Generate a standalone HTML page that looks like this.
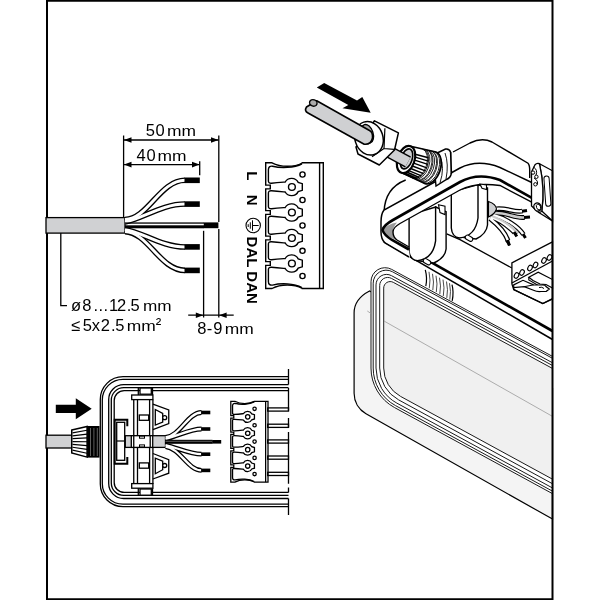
<!DOCTYPE html>
<html><head><meta charset="utf-8">
<style>
html,body{margin:0;padding:0;background:#fff;}
svg{display:block;will-change:transform;}
text{font-family:"Liberation Sans", sans-serif;}
</style></head>
<body>
<svg width="600" height="600" viewBox="0 0 600 600">
<rect x="0" y="0" width="600" height="600" fill="#fff"/>
<!-- ISO -->
<path d="M552.5,519.1 L366,413.7 A23.5,23.5 0 0 1 354.1,393.3 V313 Q354.1,299 369.5,291 L552.5,388 Z" fill="#f4f4f4" stroke="#000" stroke-width="1.2"/>
<path d="M552.5,356.41 L391.66,269.39 A14.00,14.00 0 0 0 371.00,281.71 V368.02 A45.00,45.00 0 0 0 394.47,407.53 L552.5,493.66 Z" fill="#fff" stroke="none"/>
<path d="M552.5,356.41 L391.66,269.39 A14.00,14.00 0 0 0 371.00,281.71 V368.02 A45.00,45.00 0 0 0 394.47,407.53 L552.5,493.66" fill="none" stroke="#1a1a1a" stroke-width="1.0"/>
<path d="M552.5,358.34 L392.39,271.72 A13.00,13.00 0 0 0 373.20,283.15 V368.02 A42.80,42.80 0 0 0 395.52,405.60 L552.5,491.16" fill="none" stroke="#1a1a1a" stroke-width="1.0"/>
<path d="M552.5,362.77 L391.50,275.67 A10.50,10.50 0 0 0 376.00,284.91 V368.02 A40.00,40.00 0 0 0 396.86,403.14 L552.5,487.97" fill="none" stroke="#1a1a1a" stroke-width="1.0"/>
<path d="M552.5,365.50 L391.51,278.41 A8.00,8.00 0 0 0 379.70,285.44 V368.02 A36.30,36.30 0 0 0 398.63,399.89 L552.5,483.75" fill="none" stroke="#1a1a1a" stroke-width="1.0"/>
<path d="M552.5,368.46 L393.29,282.33 A6.50,6.50 0 0 0 383.70,288.05 V368.02 A32.30,32.30 0 0 0 400.54,396.38 L552.5,479.20" fill="#f0f0f0" stroke="#1a1a1a" stroke-width="1.0"/>
<path d="M367.3,311 L371,313.5 M384,321 L552.5,416.4" stroke="#9a9a9a" stroke-width="0.8" fill="none"/>
<path d="M384,212 Q386,186 405,180 L453,152 L470,143 Q482,137 492,142 L528,163.2 Q529.7,165 529.7,170 L552.5,172 V331 L383.2,241.3 Q381,236 381,228 Z" fill="#fff" stroke="none"/>
<path d="M384,212 Q385,188 405.7,180" fill="none" stroke="#000" stroke-width="1.4"/>
<path d="M453,152 L470,143 Q482,137 492,142 L528,163.2 Q529.7,165 529.7,170 V178" fill="none" stroke="#000" stroke-width="1.4"/>
<path d="M446.7,233.8 L460,239.7 L511.9,268" stroke="#000" fill="none" stroke-width="1.3"/>
<path d="M425.3,269.8 L452,284.6 L452,300.8 L425.3,286.2 Z" fill="#fff" stroke="none"/>
<path d="M425.3,269.8 Q427.5,278 425.8,286.2 M452,284.6 Q454,292 452.2,300.8" stroke="#000" stroke-width="1.2" fill="none"/>
<path d="M429,271.8 Q430.8,280.0 429.3,288.2 M432.5,273.8 Q434.3,282.0 432.8,290.2 M436,275.7 Q437.8,283.9 436.3,292.1 M439.5,277.7 Q441.3,285.9 439.8,294.1 M443,279.6 Q444.8,287.8 443.3,296.0 M446.5,281.5 Q448.3,289.7 446.8,297.9 M449.5,283.2 Q451.3,291.4 449.8,299.6 " stroke="#333" stroke-width="0.9" fill="none"/>
<path d="M511.9,262.8 L552.5,241.8 V299 L542.8,303.6 L513.7,289.5 L511.9,284 Z" stroke="#000" fill="#fff" stroke-width="1.3"/>
<path d="M511.9,283 L552.5,261" stroke="#000" stroke-width="1.3" fill="none"/>
<ellipse cx="516.5" cy="275.5" rx="2.1" ry="2.9" transform="rotate(30 516.5 275.5)" fill="#fff" stroke="#000" stroke-width="1.1"/>
<ellipse cx="522" cy="272.5" rx="2.1" ry="2.9" transform="rotate(30 522 272.5)" fill="#fff" stroke="#000" stroke-width="1.1"/>
<ellipse cx="530" cy="268" rx="2.1" ry="2.9" transform="rotate(30 530 268)" fill="#fff" stroke="#000" stroke-width="1.1"/>
<ellipse cx="535.5" cy="265" rx="2.1" ry="2.9" transform="rotate(30 535.5 265)" fill="#fff" stroke="#000" stroke-width="1.1"/>
<ellipse cx="544" cy="260.5" rx="2.1" ry="2.9" transform="rotate(30 544 260.5)" fill="#fff" stroke="#000" stroke-width="1.1"/>
<ellipse cx="549.5" cy="257.5" rx="2.1" ry="2.9" transform="rotate(30 549.5 257.5)" fill="#fff" stroke="#000" stroke-width="1.1"/>
<path d="M528.8,277.3 L538.2,272.1 L552.5,279.5 V288 L546,284.5 L540,284 L533,280.5 Z" fill="#fff" stroke="#000" stroke-width="1.2"/>
<path d="M528.8,277.3 V280 L540,286.5 L546,287" fill="none" stroke="#000" stroke-width="1.1"/>
<path d="M513.7,284.9 L523,280.3 L533.5,284.9 L541.7,285 Q545,284.5 546,286.5 L549.3,289 L546.3,291.3 L541,291.5 Q537,292 533.5,290.2 L524.2,286.7 L513.7,287.6 Z" fill="#fff" stroke="#000" stroke-width="1.2"/>
<path d="M524.2,286.7 L533.5,284.9 M539,287.5 Q542,286.5 544,288.5" fill="none" stroke="#000" stroke-width="1"/>
<path d="M513.7,287.6 V289.5 L542.8,303.6 L552.5,298.5" fill="none" stroke="#000" stroke-width="1.3"/>
<path d="M506,240 L509.6,245.3" stroke="#000" stroke-width="2.4"/>
<path d="M495,209 C505,207 515,213 522.5,211 M494,213 C506,212 516,219 524.5,217.3 M491,217 C500,220 508,226 514.5,232.5 M493,215 C505,218 518,226 523.5,234.5 M490,218.5 C497,224 505,232 508,240.5 M492,216 C502,220 512,226 518,233" stroke="#000" stroke-width="4.8" fill="none"/>
<path d="M495,209 C505,207 515,213 522.5,211 M491,217 C500,220 508,226 514.5,232.5 M490,218.5 C497,224 505,232 508,240.5 M493,215 C505,218 518,226 523.5,234.5" stroke="#fff" stroke-width="2.4" fill="none"/>
<path d="M494,213 C506,212 516,219 524.5,217.3 M492,216 C502,220 512,226 518,233" stroke="#ccc" stroke-width="2.4" fill="none"/>
<path d="M522,211.2 L527,210.4 M524,217.5 L530,217 M514,232 L516.8,236.5 M523,234 L525.5,238 M507.6,240 L509.4,245.5" stroke="#000" stroke-width="3" fill="none"/>
<path d="M488.5,201.5 Q496,204 496.5,209 Q495,214 488.5,217 Z" fill="#cfd0d2" stroke="#000" stroke-width="1.1"/>
<path d="M383.2,241.3 L552.5,339.5" stroke="#000" stroke-width="1.5" fill="none"/>
<path d="M392,240 L552.5,331" stroke="#000" stroke-width="2.6" fill="none"/>
<path d="M435.6,207 L446.1,211.7 V249 Q445,258 433.8,263 L417.5,260.7 Z" stroke="#000" fill="#fff" stroke-width="1.4"/>
<path d="M409.1,215 V251.3 Q410,260 417.5,260.7 Q433,259 435.6,240.8 V207 Z" stroke="#000" fill="#fff" stroke-width="1.4"/>
<rect x="423" y="259.5" width="8" height="4.4" rx="2.2" transform="rotate(30 427 261.7)" fill="#fff" stroke="#000" stroke-width="1.1"/>
<path d="M478,184.5 L487.5,188 V225 Q486.5,234 476,239 L459.5,237 Z" stroke="#000" fill="#fff" stroke-width="1.4"/>
<path d="M451.3,192 V228 Q452,237 459.5,238 Q475.5,236 478,218 V184.5 Z" stroke="#000" fill="#fff" stroke-width="1.4"/>
<rect x="465" y="236" width="8" height="4.4" rx="2.2" transform="rotate(30 469 238.2)" fill="#fff" stroke="#000" stroke-width="1.1"/>
<path d="M534.4,183.8 L500,167.5 Q478,159 460,168 L384,210 Q381,214 381,222 V232 Q381,239 383.2,241.3 L410,257.7 L408.8,248.3 L397,240 Q393,237 393,232 Q393,227.5 400,223.5 L460,190 Q475,182 500,185.5 L536,204.4 Z" fill="#fff" stroke="none"/>
<path d="M383,230 Q387,224 397,222.5 Q393,227 393,232 Q393,237 396,240 Q386,237 383,230 Z" fill="#9a9a9a"/>
<path d="M534.4,183.8 L500,167.5 Q478,159 460,168 L384,210 Q381,214 381,222 V232 Q381,239 385,243 L409,257" stroke="#000" stroke-width="1.5" fill="none"/>
<path d="M537.6,201.2 L500,180 Q478,172 460,182 L393,220 Q384,225 382.5,230 Q384,235 392,240 L409,249.5" stroke="#000" stroke-width="2.6" fill="none"/>
<path d="M536,204.4 L500,185.5 Q475,182 460,190 L400,223.5 Q393,227.5 393,232 Q393,237 397,240 L409,247" stroke="#000" stroke-width="1.4" fill="none"/>
<path d="M480,184 L486.5,185 V189.5 L482,188.2 Z" fill="#fff" stroke="#000" stroke-width="1.1"/>
<path d="M438.5,204.7 L445,206.3 V214.6 L440,212.5 Z" fill="#fff" stroke="#000" stroke-width="1.1"/>
<path d="M539.5,163.8 L552.5,170.8 V221 L541.8,211 Q545,188 539.5,163.8 Z" fill="#fff" stroke="#000" stroke-width="1.3"/>
<rect x="544.8" y="176" width="5.2" height="30.3" rx="2.6" transform="rotate(-4 547.4 191)" fill="#fff" stroke="#000" stroke-width="1.0"/>
<path d="M535,164.8 Q537,162.5 539.5,163.8 Q545,188 541.8,211 Q540.5,213 538.3,212.2 L531.5,206 V172 Z" fill="#fff" stroke="#000" stroke-width="1.3"/>
<path d="M533.5,167 Q538,170 536,175 M534,178 Q539,181 537,185" fill="none" stroke="#000" stroke-width="1"/>
<circle cx="533" cy="172.6" r="1.7" fill="#fff" stroke="#000" stroke-width="1"/><circle cx="536.4" cy="176.8" r="1.7" fill="#fff" stroke="#000" stroke-width="1"/><circle cx="535.4" cy="184.3" r="1.7" fill="#fff" stroke="#000" stroke-width="1"/>
<path d="M538.3,212.2 L552.5,221" fill="none" stroke="#000" stroke-width="1.3"/>
<ellipse cx="537.5" cy="207" rx="3.6" ry="4.2" transform="rotate(-20 537.5 207)" fill="#fff" stroke="#000" stroke-width="1.3"/>
<ellipse cx="538.5" cy="207" rx="2.0" ry="3" transform="rotate(-20 538.5 207)" fill="none" stroke="#000" stroke-width="0.9"/>
<path d="M433,155 L445.5,149 Q449.5,148.5 450.5,152 L451.5,173 Q450.5,178 446.5,179.5 L436,186 Z" fill="#fff" stroke="#000" stroke-width="1.4"/>
<path d="M451,152 V174 M440,157 Q445,167 440,183 M445,153 Q449,164 446,179" stroke="#000" stroke-width="0.9" fill="none"/>
<path d="M410.5,146.3 L436.0,152.0 A10.25,16.80 18.9 0 1 425.2,183.8 L401.5,172.7 Z" fill="#fff" stroke="#000" stroke-width="1.5"/>
<path d="M415.2,154.2 L428.4,157.8 M415.2,157.1 L428.4,161.1 M414.7,160.2 L427.9,164.4 M413.7,163.2 L426.8,167.8 M412.4,166.0 L425.3,170.9 M410.7,168.5 L423.5,173.6 M408.8,170.6 L421.4,175.9 M406.8,172.0 L419.1,177.5 M404.7,172.9 L416.8,178.4 M402.6,173.0 L414.6,178.6 " stroke="#000" stroke-width="1.4" fill="none"/>
<path d="M422.3,148.9 A9.33,15.29 18.9 0 1 412.4,177.9 M423.8,149.3 A9.43,15.45 18.9 0 1 413.8,178.5 M425.2,149.6 A9.53,15.62 18.9 0 1 415.1,179.1 M426.7,149.9 A9.62,15.78 18.9 0 1 416.5,179.8 M428.2,150.3 A9.72,15.94 18.9 0 1 417.9,180.4 M429.7,150.6 A9.82,16.10 18.9 0 1 419.2,181.0 M431.1,150.9 A9.92,16.26 18.9 0 1 420.6,181.7 M432.6,151.3 A10.02,16.42 18.9 0 1 422.0,182.3 M434.1,151.6 A10.12,16.58 18.9 0 1 423.3,183.0 M435.5,151.9 A10.22,16.75 18.9 0 1 424.7,183.6 " stroke="#000" stroke-width="0.85" fill="none"/>
<ellipse cx="406.0" cy="159.5" rx="8.54" ry="14.0" transform="rotate(18.9 406.0 159.5)" fill="#fff" stroke="#000" stroke-width="2.2"/>
<ellipse cx="406.3" cy="158.7" rx="5.54" ry="10.4" transform="rotate(18.9 406.0 159.5)" fill="#cfd0d2" stroke="#000" stroke-width="1.6"/>
<path d="M382,148 L408,162" stroke="#000" stroke-width="12.5" fill="none"/>
<path d="M382,148 L408,162" stroke="#cfd0d2" stroke-width="9.8" fill="none"/>
<path d="M374.5,120.8 L398.4,132.8 L394.5,150 L379.3,165 L358,154 L356,147 Z" fill="#fff" stroke="#000" stroke-width="1.5" stroke-linejoin="round"/>
<path d="M384.9,128.3 L384,148.5 L394,149.4 M384,148.5 L372,156.8" stroke="#000" stroke-width="1.2" fill="none"/>
<ellipse cx="369" cy="138.3" rx="14" ry="17" transform="rotate(-18 369 138.3)" fill="#fff" stroke="#000" stroke-width="1.5"/>
<ellipse cx="367.3" cy="133.8" rx="5.8" ry="9.6" transform="rotate(-18 367.3 133.8)" fill="#aaa" stroke="#000" stroke-width="1.3"/>
<path d="M306.5,107 Q304,111 308,113 L364.2,144.2 Q371,145 372.5,138 Q373,132 369.5,130.5 L316.7,100.8 Z" fill="#cfd0d2" stroke="#000" stroke-width="1.6" stroke-linejoin="round"/>
<ellipse cx="313.3" cy="102.9" rx="3.8" ry="3.2" transform="rotate(20 313.3 102.9)" fill="#aaa" stroke="#000" stroke-width="1.4"/>
<path d="M316.8,87.6 L324.2,83 L357,100.5 L362.3,97 L370.7,112.8 L342.5,108.3 L348.3,105 Z" fill="#000"/>
<!-- /ISO -->
<!-- frame -->
<path d="M47,600 V0.7 H552.5 V599.2 H47" fill="none" stroke="#000" stroke-width="2"/>

<!-- ===== LEFT DIMENSION DRAWING ===== -->
<g id="dims" stroke="#000" fill="none" stroke-width="1.3">
  <line x1="123.6" y1="135.5" x2="123.6" y2="217"/>
  <line x1="218.8" y1="135.5" x2="218.8" y2="222"/>
  <line x1="218.8" y1="229" x2="218.8" y2="317.5"/>
  <line x1="199.7" y1="161.2" x2="199.7" y2="175.2"/>
  <line x1="203.6" y1="230.8" x2="203.6" y2="317.5"/>
  <line x1="124" y1="140" x2="218.5" y2="140"/>
  <line x1="124" y1="164.6" x2="199.5" y2="164.6"/>
  <line x1="188.2" y1="315.2" x2="233.7" y2="315.2"/>
  <path d="M60.8,228 V305.6 H67"/>
</g>
<g fill="#000">
  <path d="M124,140 l7.5,-2.8 v5.6z"/>
  <path d="M218.5,140 l-7.5,-2.8 v5.6z"/>
  <path d="M124,164.6 l7.5,-2.8 v5.6z"/>
  <path d="M199.5,164.6 l-7.5,-2.8 v5.6z"/>
  <path d="M203.3,315.2 l-7.5,-2.8 v5.6z"/>
  <path d="M219.1,315.2 l7.5,-2.8 v5.6z"/>
</g>
<!-- cable -->
<rect x="46" y="217.6" width="79" height="15.5" fill="#d0d1d3" stroke="#000" stroke-width="1.3"/>
<!-- wires -->
<g fill="none" stroke-linecap="butt">
  <g stroke="#000" stroke-width="5.6">
    <path d="M125,219.6 C148,219 160,180.3 185,180.3"/>
    <path d="M125,222 C142,219 162,204 185,204"/>
    <path d="M125,229.4 C142,232 162,247 185,247"/>
    <path d="M125,231.6 C148,232.2 160,270.4 185,270.4"/>
  </g>
  <g stroke="#fff" stroke-width="3">
    <path d="M125,219.6 C148,219 160,180.3 185,180.3"/>
    <path d="M125,222 C142,219 162,204 185,204"/>
    <path d="M125,229.4 C142,232 162,247 185,247"/>
    <path d="M125,231.6 C148,232.2 160,270.4 185,270.4"/>
  </g>
</g>
<rect x="125" y="222.4" width="79" height="1.3" fill="#000"/>
<rect x="125" y="225.3" width="79" height="3" fill="#000"/>
<g fill="#000">
  <rect x="184.5" y="177.5" width="15.3" height="5.6"/>
  <rect x="184.5" y="201.3" width="15.3" height="5.6"/>
  <rect x="184.5" y="244.1" width="15.3" height="5.6"/>
  <rect x="184.5" y="267.6" width="15.3" height="5.6"/>
  <rect x="203.8" y="222.4" width="14.6" height="5.8"/>
</g>
<!-- texts -->
<g font-size="16.5" fill="#000">
  <text x="145.8 155.5" y="136.2">50</text>
  <text x="136.4 146.5" y="161">40</text>
  <text x="70.9 82.3 93.5 98.5 103.5 109.0 117.0 126.8 130.6" y="310.6">ø8...12.5</text>
  <text x="71 82.8 91.8 100.7 111 115.3" y="330.8">≤5x2.5</text>
  <text x="197.3 206.7 213.2" y="334">8-9</text>
  <text x="155.8" y="329" font-size="16.5">²</text>
</g>
<g font-size="15.5" fill="#000">
  <text x="166.9" y="136.2" textLength="29" lengthAdjust="spacingAndGlyphs">mm</text>
  <text x="157.4" y="161" textLength="29" lengthAdjust="spacingAndGlyphs">mm</text>
  <text x="143" y="310.6" textLength="28.6" lengthAdjust="spacingAndGlyphs">mm</text>
  <text x="126.7" y="330.8" textLength="29" lengthAdjust="spacingAndGlyphs">mm</text>
  <text x="224.8" y="334" textLength="29" lengthAdjust="spacingAndGlyphs">mm</text>
</g>

<!-- TB -->
<g fill="none" stroke="#000" stroke-width="1.4"><path d="M323.3,162.8 H302.3 V163.0 C294,167.3 281,167.60000000000002 272,162.8 H265.7 V185.1 H270.3 V188.9 H265.7 V210.6 H270.3 V214.4 H265.7 V236.1 H270.3 V239.9 H265.7 V261.6 H270.3 V265.4 H265.7 V288.5 H272 C281,283.7 294,284.0 302.3,288.3 V288.5 H323.3 Z"/><path d="M302,163.8 C294,168.0 281,168.4 272.5,166.20000000000002 Q268.4,165.8 268.4,169.8 V181.0 Q268.4,183.4 271.5,183.2 C277,182.8 281,182.4 285.2,182.0 A7.4,7.4 0 0 1 298.2,182.4 L302.3,183.7 V190.3 L298.2,191.6 A7.4,7.4 0 0 1 285.2,192.0 C281,191.6 277,191.2 271.5,190.8 Q268.4,190.6 268.4,193.0 V206.5 Q268.4,208.9 271.5,208.7 C277,208.3 281,207.9 285.2,207.5 A7.4,7.4 0 0 1 298.2,207.9 L302.3,209.2 V215.8 L298.2,217.1 A7.4,7.4 0 0 1 285.2,217.5 C281,217.1 277,216.7 271.5,216.3 Q268.4,216.1 268.4,218.5 V232.0 Q268.4,234.4 271.5,234.2 C277,233.8 281,233.4 285.2,233.0 A7.4,7.4 0 0 1 298.2,233.4 L302.3,234.7 V241.3 L298.2,242.6 A7.4,7.4 0 0 1 285.2,243.0 C281,242.6 277,242.2 271.5,241.8 Q268.4,241.6 268.4,244.0 V257.5 Q268.4,259.9 271.5,259.7 C277,259.3 281,258.9 285.2,258.5 A7.4,7.4 0 0 1 298.2,258.9 L302.3,260.2 V266.8 L298.2,268.1 A7.4,7.4 0 0 1 285.2,268.5 C281,268.1 277,267.7 271.5,267.3 Q268.4,267.1 268.4,269.5 V281.5 Q268.4,285.5 272.5,285.1 C281,282.9 294,283.3 302,287.5"/><line x1="319.6" y1="162.8" x2="319.6" y2="288.5"/><circle cx="291.9" cy="187.0" r="3.4"/><circle cx="291.9" cy="212.5" r="3.4"/><circle cx="291.9" cy="238.0" r="3.4"/><circle cx="291.9" cy="263.5" r="3.4"/><circle cx="302.5" cy="174.5" r="2.6"/><circle cx="302.5" cy="200" r="2.6"/><circle cx="302.5" cy="225.5" r="2.6"/><circle cx="302.5" cy="250.8" r="2.6"/><circle cx="302.5" cy="276" r="2.6"/></g>
<g font-family="Liberation Sans" font-weight="bold" font-size="15" fill="#000">
  <text transform="translate(247.3,171.2) rotate(90)">L</text>
  <text transform="translate(247.3,194.8) rotate(90)">N</text>
  <text transform="translate(247.3,236.6) rotate(90)">DAL DAN</text>
</g>
<g fill="none" stroke="#000">
  <circle cx="253.2" cy="225.5" r="7.2" stroke-width="1.1"/>
  <path d="M252.5,220.3 V230.7 M252.5,225.5 H258.7 M250.3,222.3 V228.7 M248.2,224.2 V227" stroke-width="1"/>
</g>
<!-- /TB -->
<!-- HOUSE -->
<path d="M288.5,376.7 H123.0 A22.7,22.7 0 0 0 100.3,399.4 V484.0 A22.7,22.7 0 0 0 123.0,506.7 H288.5" stroke="#000" fill="none" stroke-width="1.3"/>
<path d="M288.5,379.3 H123.0 A20.7,20.7 0 0 0 102.3,400.0 V483.5 A20.7,20.7 0 0 0 123.0,504.2 H288.5" stroke="#000" fill="none" stroke-width="1.3"/>
<path d="M288.5,384.6 H123.7 A15,15 0 0 0 108.7,399.6 V483.5 A15,15 0 0 0 123.7,498.5 H288.5" stroke="#000" fill="none" stroke-width="1.3"/>
<path d="M288.5,387.7 H123.8 A12.5,12.5 0 0 0 111.3,400.2 V482.9 A12.5,12.5 0 0 0 123.8,495.4 H288.5" stroke="#000" fill="none" stroke-width="1.3"/>
<path d="M288.5,390.6 H124.2 A10,10 0 0 0 114.2,400.6 V482.4 A10,10 0 0 0 124.2,492.4 H288.5" stroke="#000" fill="none" stroke-width="1.3"/>
<path d="M288.5,369 V384.6 M288.5,388 V410.8 M288.5,418 V427.3 M288.5,432 V483.8 M288.5,487.4 V492.4 M288.5,498.5 V515 " stroke="#000" fill="none" stroke-width="1.3"/>
<rect x="267.7" y="407.9" width="20.8" height="3.2" stroke="#000" fill="none" stroke-width="1.3"/>
<rect x="267.7" y="424.2" width="20.8" height="3.2" stroke="#000" fill="none" stroke-width="1.3"/>
<rect x="267.7" y="439.9" width="20.8" height="3.2" stroke="#000" fill="none" stroke-width="1.3"/>
<rect x="267.7" y="456.0" width="20.8" height="3.2" stroke="#000" fill="none" stroke-width="1.3"/>
<rect x="267.7" y="472.29999999999995" width="20.8" height="3.2" stroke="#000" fill="none" stroke-width="1.3"/>
<rect x="46" y="435.2" width="26" height="12.8" fill="#d0d1d3" stroke="#000" stroke-width="1.3"/>
<path d="M71.75,430.1 L87.1,426.4 V457.1 L71.75,453 Z" fill="#fff" stroke="#000" stroke-width="1.5"/>
<path d="M72.5,432.96 L87,430.24 M72.5,435.83 L87,434.07 M72.5,438.69 L87,437.91 M72.5,441.55 L87,441.75 M72.5,444.41 L87,445.59 M72.5,447.27 L87,449.43 M72.5,450.14 L87,453.26 " stroke="#000" stroke-width="1.2" fill="none"/>
<rect x="87.1" y="426" width="12.4" height="31.6" fill="#000"/>
<path d="M90.5,428 V456 M93.9,428 V456 M97.3,428 V456" stroke="#888" stroke-width="0.7"/>
<path d="M55.8,404.7 H75.8 V398.3 L91.7,408.8 L75.8,419.2 V413 H55.8 Z" fill="#000"/>
<path d="M127.3,426.3 V419.7 H114.7 V463.7 H127.3 V457" fill="none" stroke="#000" stroke-width="2"/>
<rect x="116.7" y="422.3" width="8" height="38" fill="#fff" stroke="#000" stroke-width="1.3"/>
<line x1="116.7" y1="441" x2="124.7" y2="441" stroke="#000" stroke-width="1.2"/>
<path d="M133.75,399.6 V484 M137.5,399.6 V484 M149.6,399.6 V484 M152.9,399.6 V484" stroke="#000" fill="none" stroke-width="1.3"/>
<rect x="131.7" y="395" width="21.2" height="4.600000000000023" fill="#fff" stroke="#000" fill="none" stroke-width="1.3"/>
<rect x="140" y="388" width="11.3" height="6.199999999999989" fill="#fff" stroke="#000" fill="none" stroke-width="1.3"/>
<path d="M138.3,387.9 V395 M152.5,387.9 V395" stroke="#000" fill="none" stroke-width="1.3"/>
<rect x="139.3" y="415" width="9.4" height="5.300000000000011" fill="#fff" stroke="#000" fill="none" stroke-width="1.3"/>
<path d="M152.9,404.2 L168.75,410 V423.5 L152.9,429.7" stroke="#000" fill="none" stroke-width="1.3"/>
<path d="M155.3,409.5 L162.7,413.5 V422 L155.3,425 Z" stroke="#000" fill="none" stroke-width="1.3"/>
<circle cx="164.7" cy="417.7" r="2" fill="#fff" stroke="#000" fill="none" stroke-width="1.3"/>
<rect x="131.7" y="483.6" width="21.2" height="4.600000000000023" fill="#fff" stroke="#000" fill="none" stroke-width="1.3"/>
<rect x="140" y="489.00000000000006" width="11.3" height="6.199999999999989" fill="#fff" stroke="#000" fill="none" stroke-width="1.3"/>
<path d="M138.3,495.30000000000007 V488.20000000000005 M152.5,495.30000000000007 V488.20000000000005" stroke="#000" fill="none" stroke-width="1.3"/>
<rect x="139.3" y="462.90000000000003" width="9.4" height="5.300000000000011" fill="#fff" stroke="#000" fill="none" stroke-width="1.3"/>
<path d="M152.9,479.00000000000006 L168.75,473.20000000000005 V459.70000000000005 L152.9,453.50000000000006" stroke="#000" fill="none" stroke-width="1.3"/>
<path d="M155.3,473.70000000000005 L162.7,469.70000000000005 V461.20000000000005 L155.3,458.20000000000005 Z" stroke="#000" fill="none" stroke-width="1.3"/>
<circle cx="164.7" cy="465.50000000000006" r="2" fill="#fff" stroke="#000" fill="none" stroke-width="1.3"/>
<rect x="125.3" y="435.7" width="40.2" height="11.7" fill="#d0d1d3" stroke="#000" stroke-width="1.3"/>
<rect x="131.3" y="435.7" width="21.4" height="11.7" fill="#fff" stroke="#000" stroke-width="1.3"/>
<path d="M133.75,435.7 V447.4 M150.2,435.7 V447.4" stroke="#000" fill="none" stroke-width="1.3"/>
<rect x="139.5" y="436.2" width="5" height="2" fill="#fff" stroke="#000" stroke-width="1"/>
<rect x="139.5" y="444.9" width="5" height="2" fill="#fff" stroke="#000" stroke-width="1"/>
<path d="M165.5,437.5 C180,436 188,412.5 201.5,412.5 M165.5,439 C178,436 190,429 201.5,429 M165.5,445 C178,448 190,454.2 201.5,454.2 M165.5,446.5 C180,448 188,470.4 201.5,470.4" stroke="#000" stroke-width="4.8" fill="none"/>
<path d="M165.5,437.5 C180,436 188,412.5 201.5,412.5 M165.5,439 C178,436 190,429 201.5,429 M165.5,445 C178,448 190,454.2 201.5,454.2 M165.5,446.5 C180,448 188,470.4 201.5,470.4" stroke="#fff" stroke-width="2.3" fill="none"/>
<rect x="165.5" y="439.8" width="47" height="4" fill="#000"/>
<line x1="165.5" y1="441.3" x2="212" y2="441.3" stroke="#777" stroke-width="0.8"/>
<rect x="201.1" y="410.7" width="9.2" height="3.6" fill="#000"/>
<rect x="201.1" y="427.2" width="9.2" height="3.6" fill="#000"/>
<rect x="201.1" y="452.4" width="9.2" height="3.6" fill="#000"/>
<rect x="201.1" y="468.59999999999997" width="9.2" height="3.6" fill="#000"/>
<rect x="212.2" y="440" width="9" height="3.6" fill="#000"/>
<g transform="translate(230.8,401.3) scale(0.646,0.643) translate(-265.7,-162.8)"><g fill="none" stroke="#000" stroke-width="2.0"><path d="M323.3,162.8 H302.3 V163.0 C294,167.3 281,167.60000000000002 272,162.8 H265.7 V185.1 H270.3 V188.9 H265.7 V210.6 H270.3 V214.4 H265.7 V236.1 H270.3 V239.9 H265.7 V261.6 H270.3 V265.4 H265.7 V288.5 H272 C281,283.7 294,284.0 302.3,288.3 V288.5 H323.3 Z"/><path d="M302,163.8 C294,168.0 281,168.4 272.5,166.20000000000002 Q268.4,165.8 268.4,169.8 V181.0 Q268.4,183.4 271.5,183.2 C277,182.8 281,182.4 285.2,182.0 A7.4,7.4 0 0 1 298.2,182.4 L302.3,183.7 V190.3 L298.2,191.6 A7.4,7.4 0 0 1 285.2,192.0 C281,191.6 277,191.2 271.5,190.8 Q268.4,190.6 268.4,193.0 V206.5 Q268.4,208.9 271.5,208.7 C277,208.3 281,207.9 285.2,207.5 A7.4,7.4 0 0 1 298.2,207.9 L302.3,209.2 V215.8 L298.2,217.1 A7.4,7.4 0 0 1 285.2,217.5 C281,217.1 277,216.7 271.5,216.3 Q268.4,216.1 268.4,218.5 V232.0 Q268.4,234.4 271.5,234.2 C277,233.8 281,233.4 285.2,233.0 A7.4,7.4 0 0 1 298.2,233.4 L302.3,234.7 V241.3 L298.2,242.6 A7.4,7.4 0 0 1 285.2,243.0 C281,242.6 277,242.2 271.5,241.8 Q268.4,241.6 268.4,244.0 V257.5 Q268.4,259.9 271.5,259.7 C277,259.3 281,258.9 285.2,258.5 A7.4,7.4 0 0 1 298.2,258.9 L302.3,260.2 V266.8 L298.2,268.1 A7.4,7.4 0 0 1 285.2,268.5 C281,268.1 277,267.7 271.5,267.3 Q268.4,267.1 268.4,269.5 V281.5 Q268.4,285.5 272.5,285.1 C281,282.9 294,283.3 302,287.5"/><line x1="319.6" y1="162.8" x2="319.6" y2="288.5"/><circle cx="291.9" cy="187.0" r="3.4"/><circle cx="291.9" cy="212.5" r="3.4"/><circle cx="291.9" cy="238.0" r="3.4"/><circle cx="291.9" cy="263.5" r="3.4"/><circle cx="302.5" cy="174.5" r="2.6"/><circle cx="302.5" cy="200" r="2.6"/><circle cx="302.5" cy="225.5" r="2.6"/><circle cx="302.5" cy="250.8" r="2.6"/><circle cx="302.5" cy="276" r="2.6"/></g></g>
<!-- /HOUSE -->
</svg>
</body></html>
